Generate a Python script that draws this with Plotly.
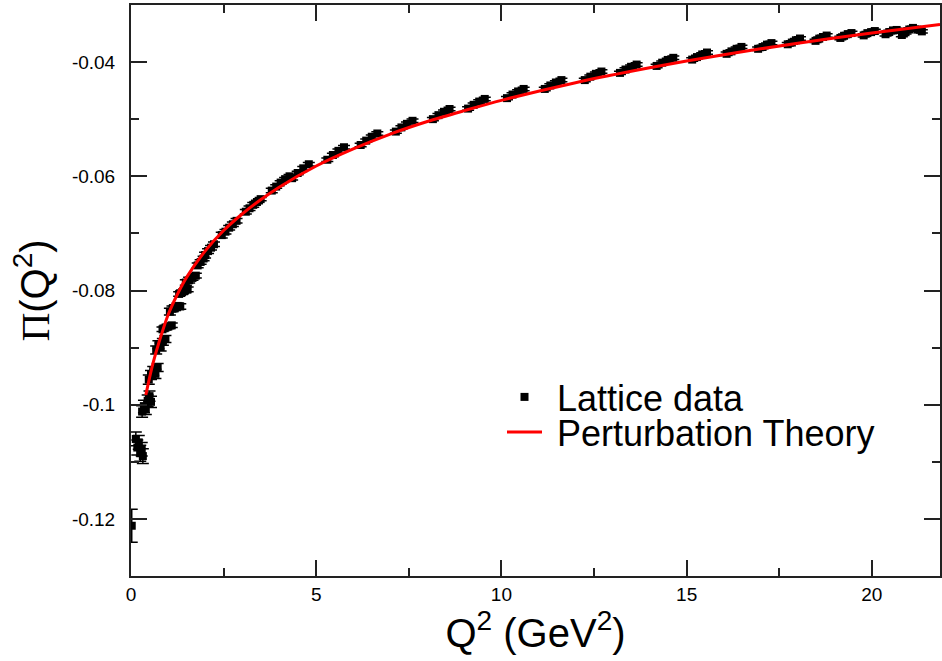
import plotly.graph_objects as go

# ---- Lattice data ----
lat_x = [
    0.02,
    0.13, 0.17, 0.21, 0.25, 0.29, 0.32,
    0.30, 0.35, 0.40, 0.45, 0.50, 0.54,
    0.48, 0.54, 0.60, 0.66, 0.72,
    0.68, 0.74, 0.80, 0.86, 0.93,
    0.85, 0.93, 1.01, 1.10,
    1.05, 1.12, 1.19, 1.26, 1.33,
    1.30, 1.38, 1.46, 1.53,
    1.48, 1.57, 1.66, 1.75,
    1.80, 1.88, 1.96,
    2.00, 2.08, 2.16, 2.24,
    2.45, 2.55, 2.65, 2.75, 2.85,
    3.10, 3.20, 3.30, 3.40, 3.50,
    3.80, 3.92, 4.04, 4.16, 4.28,
    4.35, 4.50, 4.65, 4.80,
    5.30, 5.45, 5.60, 5.75,
    6.20, 6.35, 6.50, 6.65,
    7.15, 7.30, 7.45, 7.60,
    8.15, 8.30, 8.45, 8.60,
    9.10, 9.25, 9.40, 9.55,
    10.15, 10.30, 10.45, 10.60,
    11.17, 11.32, 11.47, 11.62,
    12.25, 12.40, 12.55, 12.70,
    13.20, 13.35, 13.50, 13.65,
    14.19, 14.34, 14.49, 14.64,
    15.15, 15.28, 15.42, 15.55,
    16.08, 16.21, 16.35, 16.48,
    16.93, 17.05, 17.17, 17.29,
    17.73, 17.84, 17.95, 18.06,
    18.48, 18.58, 18.68, 18.78,
    19.15, 19.25, 19.35, 19.45,
    19.78, 19.88, 19.98, 20.08,
    20.37, 20.47, 20.57, 20.67,
    20.81, 20.91, 21.01, 21.11, 21.23, 21.35,
]
lat_y = [
    -0.1212,
    -0.1060, -0.1075, -0.1066, -0.1085, -0.1078, -0.1090,
    -0.1012, -0.1003, -0.1007, -0.0993, -0.0985, -0.0995,
    -0.0956, -0.0948, -0.0941, -0.0946, -0.0935,
    -0.0904, -0.0895, -0.0899, -0.0890, -0.0885,
    -0.0868, -0.0865, -0.0863, -0.0861,
    -0.0837, -0.0832, -0.0830, -0.0827, -0.0828,
    -0.0806, -0.0803, -0.0800, -0.0798,
    -0.0786, -0.0782, -0.0778, -0.0774,
    -0.0756, -0.0750, -0.0744,
    -0.0738, -0.0731, -0.0725, -0.0719,
    -0.0703, -0.0697, -0.0690, -0.0684, -0.0678,
    -0.0662, -0.0656, -0.0650, -0.0645, -0.0640,
    -0.0625, -0.0618, -0.0611, -0.0605, -0.0600,
    -0.06033, -0.05942, -0.05860, -0.05789,
    -0.05710, -0.05627, -0.05554, -0.05491,
    -0.05452, -0.05375, -0.05307, -0.05250,
    -0.05217, -0.05144, -0.05081, -0.05028,
    -0.04999, -0.04929, -0.04870, -0.04821,
    -0.04814, -0.04748, -0.04691, -0.04645,
    -0.04631, -0.04568, -0.04514, -0.04470,
    -0.04470, -0.04409, -0.04357, -0.04315,
    -0.04315, -0.04255, -0.04205, -0.04165,
    -0.04189, -0.04130, -0.04082, -0.04043,
    -0.04067, -0.04010, -0.03962, -0.03925,
    -0.03956, -0.03912, -0.03866, -0.03832,
    -0.03855, -0.03812, -0.03767, -0.03734,
    -0.03767, -0.03736, -0.03694, -0.03667,
    -0.03688, -0.03658, -0.03617, -0.03587,
    -0.03628, -0.03589, -0.03560, -0.03535,
    -0.03577, -0.03539, -0.03510, -0.03491,
    -0.03532, -0.03493, -0.03475, -0.03456,
    -0.03512, -0.03474, -0.03445, -0.03437,
    -0.03525, -0.03477, -0.03429, -0.03401, -0.03431, -0.03462,
]
lat_err_low = [
    0.0029,
    0.0012, 0.0013, 0.0012, 0.0014, 0.0012, 0.0013,
    0.0010, 0.0011, 0.0010, 0.0010, 0.0009, 0.0010,
    0.0008, 0.0008, 0.0008, 0.0008, 0.0007,
    0.0007, 0.0007, 0.0007, 0.0006, 0.0006,
    0.0004, 0.0004, 0.0004, 0.0004,
    0.0006, 0.0005, 0.0005, 0.0005, 0.0005,
    0.0004, 0.0004, 0.0004, 0.0004,
    0.0005, 0.0005, 0.0004, 0.0004,
    0.0004, 0.0004, 0.0004,
    0.0005, 0.0004, 0.0004, 0.0004,
    0.0005, 0.0004, 0.0004, 0.0004, 0.0004,
    0.0004, 0.0004, 0.0004, 0.0003, 0.0003,
    0.0004, 0.0003, 0.0003, 0.0003, 0.0003,
]
lat_err_high = 0.0003  # error on all remaining (Q^2 > 4.3) points

# ---- Perturbation theory curve ----
pt_x = [0.40, 0.50, 0.60, 0.75, 1.0, 1.25, 1.5, 2.0, 2.5, 3.0, 3.5, 4.0,
        5.0, 6.0, 7.0, 8.0, 9.0, 10.0, 12.0, 14.0, 16.0, 18.0, 20.0, 21.84]
pt_y = [-0.0983, -0.0953, -0.0926, -0.0892, -0.0843, -0.0807, -0.0777, -0.0731,
        -0.0695, -0.0666, -0.0641, -0.0619, -0.0582, -0.0552, -0.0526, -0.0504,
        -0.0485, -0.0467, -0.0436, -0.0410, -0.0387, -0.0367, -0.0349, -0.0334]

x_ticks = [0, 5, 10, 15, 20]
x_minor = [2.5, 7.5, 12.5, 17.5]
y_ticks = [-0.12, -0.10, -0.08, -0.06, -0.04]
y_ticktext = ["-0.12", "-0.1", "-0.08", "-0.06", "-0.04"]
y_minor = [-0.11, -0.09, -0.07, -0.05]

FONT = "Liberation Sans, Arial, Helvetica, sans-serif"
lat_err = lat_err_low + [lat_err_high] * (len(lat_x) - len(lat_err_low))

fig = go.Figure()
fig.add_trace(go.Scatter(
    x=lat_x, y=lat_y, mode="markers", name="\u00a0Lattice data",
    legend="legend",
    marker=dict(symbol="square", size=8, color="black", line=dict(width=0)),
    error_y=dict(type="data", array=lat_err, visible=True, color="black",
                 thickness=1.5, width=6),
))
fig.add_trace(go.Scatter(
    x=pt_x, y=pt_y, mode="lines", name="\u00a0Perturbation Theory",
    legend="legend2",
    line=dict(color="#ff0000", width=3, shape="spline", smoothing=0.8),
))

axis_common = dict(
    showgrid=False, zeroline=False, showline=True, linecolor="#222",
    linewidth=2, mirror="allticks", ticks="inside", tickcolor="#222",
    tickwidth=1.5, ticklen=16, automargin=False,
    tickfont=dict(family=FONT, size=19, color="black"),
)

fig.update_xaxes(
    range=[0, 21.84], tickmode="array", tickvals=x_ticks,
    ticktext=[str(v) for v in x_ticks], ticklabelstandoff=0,
    minor=dict(tickmode="array", tickvals=x_minor, ticks="inside",
               ticklen=8, tickwidth=1.5, tickcolor="#222"),
    title=dict(text="Q<sup>2</sup> (GeV<sup>2</sup>)",
               font=dict(family=FONT, size=40, color="black"), standoff=2),
    **axis_common,
)
fig.update_yaxes(
    range=[-0.13, -0.03], tickmode="array", tickvals=y_ticks,
    ticktext=y_ticktext, ticklabelstandoff=10,
    minor=dict(tickmode="array", tickvals=y_minor, ticks="inside",
               ticklen=8, tickwidth=1.5, tickcolor="#222"),
    title=dict(text="<span style=\"font-family:'Liberation Serif'\">\u03a0</span>(Q<sup>2</sup>)",
               font=dict(family=FONT, size=40, color="black"), standoff=10),
    **axis_common,
)

legend_common = dict(
    xanchor="left", yanchor="middle", bgcolor="rgba(0,0,0,0)", borderwidth=0,
    font=dict(family=FONT, size=36, color="black"), itemwidth=35,
)
fig.update_layout(
    width=942, height=661,
    margin=dict(l=131, r=2, t=5, b=85),
    paper_bgcolor="white", plot_bgcolor="white",
    showlegend=True,
    legend=dict(x=(502 - 131) / 809, y=(576 - 397) / 571, **legend_common),
    legend2=dict(x=(502 - 131) / 809, y=(576 - 432) / 571, **legend_common),
)

fig.write_html(
    "out.html",
    config={"displayModeBar": False},
    post_script="document.body.style.margin='0';document.body.style.overflow='hidden';",
)
